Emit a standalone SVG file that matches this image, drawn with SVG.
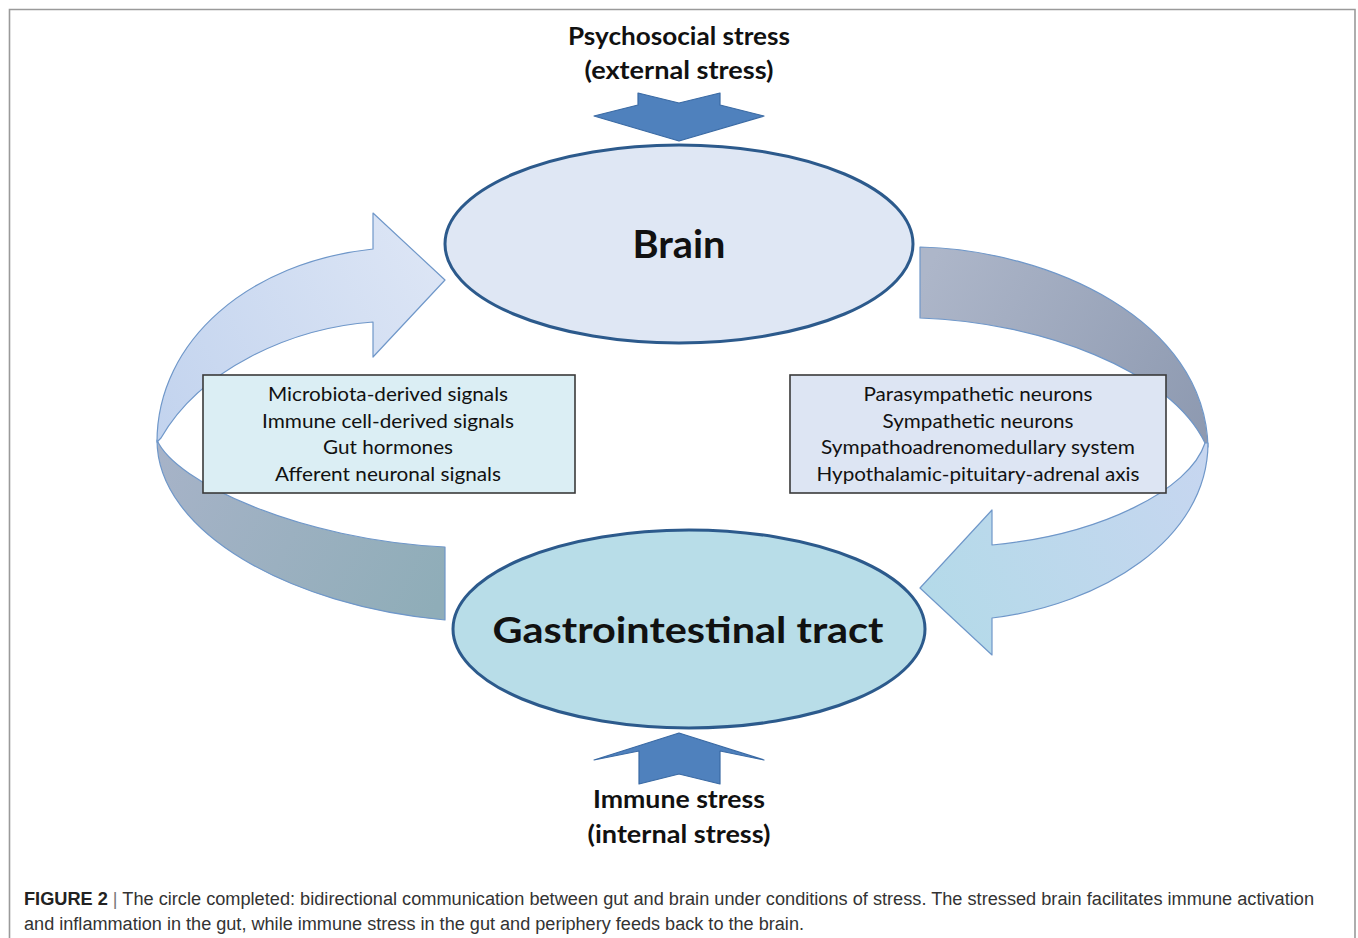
<svg xmlns="http://www.w3.org/2000/svg" width="1358" height="938" viewBox="0 0 1358 938">
<defs>
<style>
.frame{fill:none;stroke:#9a9a9a;stroke-width:1.6}
.band{stroke:#6f97c9;stroke-width:1.2;stroke-linejoin:round}
.stress{fill:#4f81bd;stroke:#3a6aa4;stroke-width:1.2;stroke-linejoin:round}
.ell{stroke:#2c5a8c;stroke-width:3}
.box{stroke:#3a3a3a;stroke-width:1.6}
.t{font-family:Lato,"Open Sans","Liberation Sans",sans-serif;fill:#111;text-anchor:middle}
.b{font-weight:bold}
.bx{font-size:20px}
.cap{font-family:"Liberation Sans",Arial,sans-serif;font-size:18px;fill:#333}
</style>
<linearGradient id="gLU" gradientUnits="userSpaceOnUse" x1="445" y1="280" x2="157" y2="440">
<stop offset="0" stop-color="#dce5f5"/><stop offset="1" stop-color="#c2d3ee"/>
</linearGradient>
<linearGradient id="gLL" gradientUnits="userSpaceOnUse" x1="160" y1="440" x2="445" y2="590">
<stop offset="0" stop-color="#a7b3c8"/><stop offset="1" stop-color="#8fadb8"/>
</linearGradient>
<linearGradient id="gRU" gradientUnits="userSpaceOnUse" x1="920" y1="283" x2="1208" y2="440">
<stop offset="0" stop-color="#adb6c9"/><stop offset="1" stop-color="#8d99b0"/>
</linearGradient>
<linearGradient id="gRL" gradientUnits="userSpaceOnUse" x1="1208" y1="450" x2="920" y2="590">
<stop offset="0" stop-color="#c7d6f0"/><stop offset="1" stop-color="#b4dae9"/>
</linearGradient>
</defs>
<rect width="1358" height="938" fill="#ffffff"/>
<path class="frame" d="M9.5,940 V9.5 H1355 V940"/>

<g id="connectors">
  <g id="gut-to-brain">
    <path class="band" fill="url(#gLL)" d="M157,440 C175,482 300,540 445,547 L445,620 C290,606 157,532 157,440 Z"/>
    <path class="band" fill="url(#gLU)" d="M373,213 L445,280 L373,357 L373,322 C290,328 200,370 161,438 L157,442 C157,340 250,262 373,249 Z"/>
  </g>
  <g id="brain-to-gut">
    <path class="band" fill="url(#gRU)" d="M920,247 C1050,250 1205,320 1208,447 L1205,443 C1170,370 1040,322 920,318 Z"/>
    <path class="band" fill="url(#gRL)" d="M1208,443 C1208,540 1100,605 992,618 L992,655 L920,588 L992,510 L992,545 C1100,535 1190,490 1205,443 Z"/>
  </g>
  <g id="psychosocial-arrow">
    <path class="stress" d="M638,93 L679,103 L720,93 L720,105 L764,116 L679,141 L594,116 L638,105 Z"/>
  </g>
  <g id="immune-arrow">
    <path class="stress" d="M679,733 L764,760 L720,751 L720,784 L679,774 L639,784 L639,751 L594,760 Z"/>
  </g>
</g>

<g id="brain">
  <ellipse class="ell" cx="679" cy="244" rx="234" ry="99" fill="#dfe7f4"/>
  <text class="t b" x="679" y="258" font-size="39" textLength="93" lengthAdjust="spacingAndGlyphs">Brain</text>
</g>

<g id="gi-tract">
  <ellipse class="ell" cx="689" cy="629" rx="236" ry="99" fill="#b8dde8"/>
  <text class="t b" x="688" y="643" font-size="37" textLength="391" lengthAdjust="spacingAndGlyphs">Gastrointestinal tract</text>
</g>

<g id="psychosocial-stress">
  <text class="t b" x="679" y="45" font-size="24" textLength="222" lengthAdjust="spacingAndGlyphs">Psychosocial stress</text>
  <text class="t b" x="679" y="79" font-size="24" textLength="189" lengthAdjust="spacingAndGlyphs">(external stress)</text>
</g>

<g id="immune-stress">
  <text class="t b" x="679" y="808" font-size="24" textLength="172" lengthAdjust="spacingAndGlyphs">Immune stress</text>
  <text class="t b" x="679" y="843" font-size="24" textLength="183" lengthAdjust="spacingAndGlyphs">(internal stress)</text>
</g>

<g id="afferent-box">
  <rect class="box" x="203" y="375" width="372" height="118" fill="#dbeef4"/>
  <text class="t bx" x="388" y="401" textLength="240" lengthAdjust="spacingAndGlyphs">Microbiota-derived signals</text>
  <text class="t bx" x="388" y="428" textLength="252" lengthAdjust="spacingAndGlyphs">Immune cell-derived signals</text>
  <text class="t bx" x="388" y="454" textLength="130" lengthAdjust="spacingAndGlyphs">Gut hormones</text>
  <text class="t bx" x="388" y="481" textLength="226" lengthAdjust="spacingAndGlyphs">Afferent neuronal signals</text>
</g>

<g id="efferent-box">
  <rect class="box" x="790" y="375" width="376" height="118" fill="#dde5f3"/>
  <text class="t bx" x="978" y="401" textLength="229" lengthAdjust="spacingAndGlyphs">Parasympathetic neurons</text>
  <text class="t bx" x="978" y="428" textLength="191" lengthAdjust="spacingAndGlyphs">Sympathetic neurons</text>
  <text class="t bx" x="978" y="454" textLength="314" lengthAdjust="spacingAndGlyphs">Sympathoadrenomedullary system</text>
  <text class="t bx" x="978" y="481" textLength="323" lengthAdjust="spacingAndGlyphs">Hypothalamic-pituitary-adrenal axis</text>
</g>

<g id="caption">
  <text class="cap" x="24" y="905" textLength="1290" lengthAdjust="spacingAndGlyphs"><tspan font-weight="bold" fill="#222">FIGURE 2</tspan><tspan fill="#777"> | </tspan>The circle completed: bidirectional communication between gut and brain under conditions of stress. The stressed brain facilitates immune activation</text>
  <text class="cap" x="24" y="930" textLength="780" lengthAdjust="spacingAndGlyphs">and inflammation in the gut, while immune stress in the gut and periphery feeds back to the brain.</text>
</g>
</svg>
